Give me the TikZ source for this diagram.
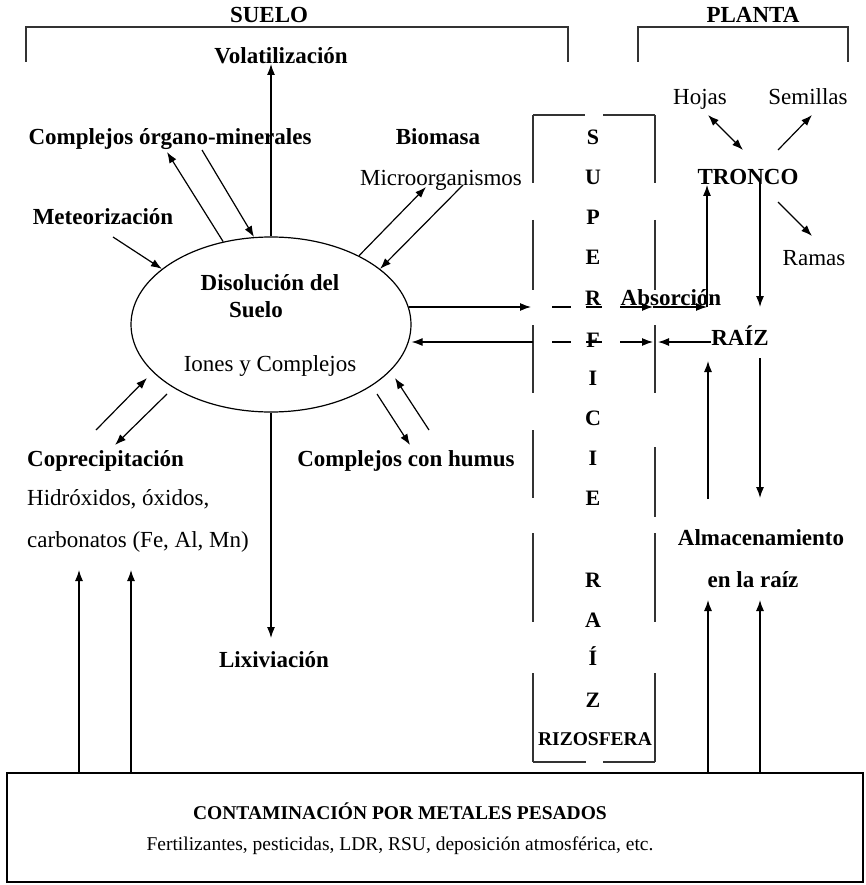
\documentclass[tikz,border=0pt]{standalone}
\usepackage{fontspec}
\setmainfont{Liberation Serif}
\usetikzlibrary{arrows.meta,shapes.geometric}

\tikzset{
  negrita/.style={font=\bfseries\fontsize{23}{26}\selectfont, inner sep=0pt, anchor=base},
  normal/.style={font=\fontsize{23}{26}\selectfont, inner sep=0pt, anchor=base},
  letra/.style={font=\bfseries\fontsize{22}{26}\selectfont, inner sep=0pt, anchor=base},
  chica/.style={font=\fontsize{19.5}{22}\selectfont, inner sep=0pt, anchor=base},
  flecha/.style={-{Latex[length=11pt,width=8pt]}, line width=1.2pt},
  doble/.style={{Latex[length=11pt,width=8pt]}-{Latex[length=11pt,width=8pt]}, line width=1.2pt},
  marco/.style={line width=1.5pt, black!80},
}

\begin{document}
\begin{tikzpicture}[x=1pt,y=-1pt]
  \useasboundingbox (0,0) rectangle (866,885);

  % llaves de arriba
  \node[negrita] (suelo) at (269,23) {SUELO};
  \node[negrita] (planta) at (753,23) {PLANTA};
  \draw[marco] (26,62) -- (26,27) -- (568,27) -- (568,62);
  \draw[marco] (638,62) -- (638,27) -- (848,27) -- (848,62);

  % suelo
  \node[draw, ellipse, minimum width=280pt, minimum height=175pt, inner sep=0pt, line width=1.2pt] (dis) at (271,324.5) {};
  \node[negrita] (disol) at (270,290) {Disolución del};
  \node[negrita] (suelo2) at (256,317) {Suelo};
  \node[normal] (iones) at (270,371) {Iones y Complejos};

  \node[negrita] (vol) at (281,64) {Volatilización};
  \node[negrita] (com) at (170,145) {Complejos órgano-minerales};
  \node[negrita] (bio) at (438,145) {Biomasa};
  \node[normal] (micro) at (441,186) {Microorganismos};
  \node[negrita] (met) at (103,225) {Meteorización};
  \node[negrita, anchor=base west] (cop) at (27,466) {Coprecipitación};
  \node[normal, anchor=base west] (hid) at (27,505) {Hidróxidos, óxidos,};
  \node[normal, anchor=base west] (carb) at (27,547) {carbonatos (Fe, Al, Mn)};
  \node[negrita] (hum) at (406,466) {Complejos con humus};
  \node[negrita] (lix) at (274,667) {Lixiviación};

  \coordinate (me1) at (113,237);
  \coordinate (om1) at (167,152);
  \coordinate (om2) at (202,150);
  \coordinate (bi1) at (426,187);
  \coordinate (bi2) at (463,185);
  \coordinate (cp1) at (96,430);
  \coordinate (cp2) at (147,378);
  \coordinate (cp3) at (167,394);
  \coordinate (cp4) at (115,445);
  \coordinate (hu1) at (377,394);
  \coordinate (hu2) at (410,445);
  \coordinate (hu3) at (429,430);
  \coordinate (hu4) at (395,378);
  \coordinate (lx) at (271,638);

  \draw[flecha] (dis.north) -- (dis.north |- vol.base);
  \draw[flecha] (me1) -- (dis.153);
  \draw[flecha] (dis.120) -- (om1);
  \draw[flecha] (om2) -- (dis.101);
  \draw[flecha] (dis.38) -- (bi1);
  \draw[flecha] (bi2) -- (dis.27);
  \draw[flecha] (cp1) -- (cp2);
  \draw[flecha] (cp3) -- (cp4);
  \draw[flecha] (hu1) -- (hu2);
  \draw[flecha] (hu3) -- (hu4);
  \draw[flecha] (dis.south) -- (lx);

  % superficie de la raiz
  \draw[marco] (533,115) -- (585,115) (603,115) -- (655,115);
  \draw[marco] (533,762) -- (586,762) (603,762) -- (655,762);
  \foreach \a/\b in {115/183,220/290,325/393,430/498,533/622,673/762}
    \draw[marco] (533,\a) -- (533,\b);
  \foreach \a/\b in {115/183,220/290,325/393,447/517,533/622,673/762}
    \draw[marco] (655,\a) -- (655,\b);
  \foreach \l/\y [count=\i] in {S/144.5,U/184.5,P/224.5,E/264.5,R/305.5,F/347,I/385.5,C/425.5,I/465.5,E/505.5,R/587.5,A/627.5,Í/665.5,Z/707.5}
    \node[letra] (sup\i) at (593,\y) {\l};
  \node[font=\bfseries\fontsize{19.5}{22}\selectfont, inner sep=0pt, anchor=base] (rizo) at (595,745) {RIZOSFERA};

  \coordinate (sl1) at (531,307);
  \coordinate (sl2) at (533,342);
  \draw[flecha] (dis.7 |- sl1) -- (sl1);
  \draw[flecha] (sl2) -- (sl2 -| dis.east);
  \draw[line width=1.2pt] (552,307) -- (571,307) (586,307) -- (602,307);
  \draw[line width=1.2pt] (552,342) -- (571,342) (586,342) -- (602,342);

  % planta
  \node[normal] (hojas) at (700,104.5) {Hojas};
  \node[normal] (semi) at (808,104.5) {Semillas};
  \node[negrita] (tronco) at (748,184.5) {TRONCO};
  \node[normal] (ramas) at (814,265.5) {Ramas};
  \node[negrita] (absor) at (671,305.5) {Absorción};
  \node[negrita] (raiz) at (740,345.5) {RAÍZ};
  \node[negrita] (alm) at (761,545.5) {Almacenamiento};
  \node[negrita] (enla) at (753,587.5) {en la raíz};

  \coordinate (ho1) at (708,115);
  \coordinate (ho2) at (743,150);
  \coordinate (se1) at (778,150);
  \coordinate (se2) at (812,115);
  \coordinate (ra1) at (778,202);
  \coordinate (ra2) at (812,236);
  \coordinate (ab1) at (620,307);
  \coordinate (ab2) at (653,307);
  \coordinate (ab3) at (707,307);
  \coordinate (fi1) at (620,342);
  \coordinate (fi2) at (653,342);
  \coordinate (tr1) at (760,181);
  \coordinate (tr2) at (760,307);
  \coordinate (rz1) at (760,358);
  \coordinate (rz2) at (760,498);
  \coordinate (rz3) at (708,499);
  \coordinate (rz4) at (708,361);

  \draw[doble] (ho1) -- (ho2);
  \draw[flecha] (se1) -- (se2);
  \draw[flecha] (ra1) -- (ra2);
  \draw[flecha] (ab1) -- (ab2);
  \draw[flecha] (ab2) -- (ab3);
  \draw[flecha] (ab3) -- (ab3 |- tronco.south);
  \draw[flecha] (fi1) -- (fi2);
  \draw[flecha] (raiz.west |- fi2) -- ([xshift=5pt]fi2);
  \draw[flecha] (tr1) -- (tr2);
  \draw[flecha] (rz1) -- (rz2);
  \draw[flecha] (rz3) -- (rz4);

  % contaminacion
  \node[draw, line width=1.8pt, minimum width=856pt, minimum height=109pt, inner sep=0pt] (conta) at (435,827.5) {};
  \node[font=\bfseries\fontsize{19.5}{22}\selectfont, inner sep=0pt, anchor=base] (conta1) at (400,819) {CONTAMINACIÓN POR METALES PESADOS};
  \node[chica] (conta2) at (400,850) {Fertilizantes, pesticidas, LDR, RSU, deposición atmosférica, etc.};

  \coordinate (co1) at (79,570);
  \coordinate (co2) at (131,570);
  \coordinate (al1) at (708,600);
  \coordinate (al2) at (760,600);
  \draw[flecha] (co1 |- conta.north) -- (co1);
  \draw[flecha] (co2 |- conta.north) -- (co2);
  \draw[flecha] (al1 |- conta.north) -- (al1);
  \draw[flecha] (al2 |- conta.north) -- (al2);
\end{tikzpicture}
\end{document}
